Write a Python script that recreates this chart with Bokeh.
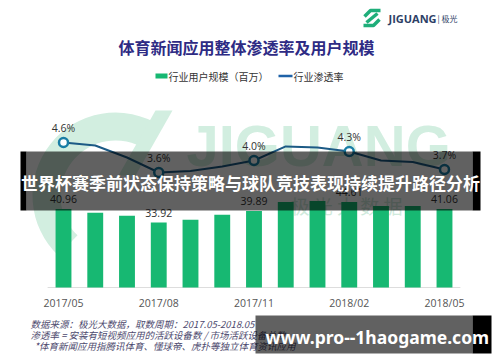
from bokeh.plotting import figure
from bokeh.models import Range1d
from bokeh.core.properties import value
from bokeh.embed import file_html
from bokeh.resources import INLINE

# ---------------- data ----------------
months = ["2017/05", "2017/06", "2017/07", "2017/08", "2017/09", "2017/10", "2017/11",
          "2017/12", "2018/01", "2018/02", "2018/03", "2018/04", "2018/05"]
users = [40.96, 39.0, 37.5, 33.92, 35.4, 38.0, 39.89, 44.6, 45.2, 44.61, 42.6, 42.6, 41.06]
rate = [4.6, 4.5, 4.1, 3.6, 3.65, 3.8, 4.0, 4.47, 4.43, 4.3, 4.0, 3.95, 3.7]
tick_labels = ["2017/05", "2017/08", "2017/11", "2018/02", "2018/05"]
label_months = ["2017/05", "2017/08", "2017/11", "2018/02", "2018/05"]
user_labels = ["40.96", "33.92", "39.89", "44.61", "41.06"]
rate_labels = ["4.6%", "3.6%", "4.0%", "4.3%", "3.7%"]

title_text = "体育新闻应用整体渗透率及用户规模"
legend_users = "行业用户规模（百万）"
legend_rate = "行业渗透率"
notes = ["数据来源：极光大数据，取数周期：2017.05-2018.05",
         "渗透率 = 安装有短视频应用的活跃设备数 / 市场活跃设备总数",
         "*体育新闻应用指腾讯体育、懂球帝、虎扑等独立体育资讯应用"]
banner_text = "世界杯赛季前状态保持策略与球队竞技表现持续提升路径分析"
url_text = "www.pro--1haogame.com"

idx = list(range(len(months)))
lab_idx = [months.index(m) for m in label_months]
lab_users = [users[i] for i in lab_idx]
lab_rate = [rate[i] for i in lab_idx]

CJK = value("Noto Sans CJK SC")
MINT = "#d2eee0"

p = figure(width=500, height=362, output_backend="svg", toolbar_location=None,
           x_range=Range1d(-1.9843, 13.764), y_range=Range1d(-39.16, 149.87),
           x_axis_type=None, y_axis_type=None, min_border=0)
p.extra_x_ranges = {"px": Range1d(0, 500)}
p.extra_y_ranges = {"px": Range1d(362, 0), "pct": Range1d(-2.7333, 9.3333)}
p.grid.visible = False
p.outline_line_color = None
p.background_fill_color = "white"
p.border_fill_color = "white"

PX = dict(x_range_name="px", y_range_name="px")

# ---------------- faint watermark ----------------
p.annular_wedge(x=115, y=195, inner_radius=55, outer_radius=83,
                inner_radius_units="screen", outer_radius_units="screen",
                start_angle=1.0, end_angle=3.95, fill_color=MINT, line_color=None, **PX)
p.patch(x=[155, 172, 135, 118], y=[110, 110, 175, 175], fill_color=MINT,
        line_color=None, **PX)
p.text(x=[186], y=[112], text=["JIGUANG"], text_font=value("Liberation Sans"),
       text_font_style="bold", text_font_size="58px", text_color=MINT,
       text_baseline="top", text_align="left", **PX)
p.text(x=[290], y=[205], text=["极  光  大  数  据"], text_font=CJK, text_font_size="19px",
       text_color="#cfeadc", text_baseline="middle", text_align="left", **PX)

# ---------------- header ----------------
p.multi_line(xs=[[364, 370, 380], [363, 373, 379], [366, 377]],
             ys=[[16, 10, 10], [25, 25, 19], [22, 13]],
             line_color="#1fae7a", line_width=3.5, **PX)
p.text(x=[388], y=[18], text=["JIGUANG"], text_font=value("Open Sans"), text_font_style="bold",
       text_font_size="11px", text_color="#2d3f66", text_baseline="middle", **PX)
p.text(x=[437], y=[18], text=["| 极光"], text_font=CJK, text_font_size="8px",
       text_color="#2d3f66", text_baseline="middle", **PX)
p.text(x=[246], y=[46], text=[title_text], text_font=CJK, text_font_style="bold",
       text_font_size="16px", text_color="#2e2b84", text_align="center",
       text_baseline="middle", **PX)

# legend
p.quad(left=[155], right=[167], top=[73], bottom=[78], fill_color="#17b872",
       line_color=None, **PX)
p.text(x=[168], y=[75.5], text=[legend_users], text_font=CJK, text_font_size="10px",
       text_color="#333333", text_baseline="middle", **PX)
p.segment(x0=[278], y0=[75.5], x1=[292], y1=[75.5], line_color="#1f62a8", line_width=2.5, **PX)
p.text(x=[293], y=[75.5], text=[legend_rate], text_font=CJK, text_font_size="10px",
       text_color="#333333", text_baseline="middle", **PX)

# ---------------- chart ----------------
p.segment(x0=[-0.5], y0=[0], x1=[12.5], y1=[0], line_color="#dddddd", line_width=1)
p.vbar(x=idx, top=users, width=0.5, bottom=0, fill_color="#17b872", line_color=None)
p.text(x=lab_idx, y=lab_users, text=user_labels, text_font=value("Open Sans"),
       text_font_size="10.5px", text_color="#333333", text_align="center",
       text_baseline="middle", y_offset=-10)

p.line(x=idx, y=rate, line_color="#1c5a85", line_width=2, y_range_name="pct")
p.scatter(x=lab_idx, y=lab_rate, size=9, fill_color="white", line_color="#1a7ea5",
          line_width=2.5, y_range_name="pct")
p.text(x=lab_idx, y=lab_rate, text=rate_labels, text_font=value("Open Sans"),
       text_font_size="10.5px", text_color="#333333", text_align="center",
       text_baseline="middle", y_offset=-14, y_range_name="pct")

tick_idx = [months.index(m) for m in tick_labels]
p.text(x=tick_idx, y=[0] * len(tick_idx), text=tick_labels, text_font=value("Open Sans"),
       text_font_size="10.5px", text_color="#555555", text_align="center",
       text_baseline="middle", y_offset=15)

# footnotes
p.text(x=[30, 30, 34], y=[323, 334, 345], text=notes, text_font=CJK, text_font_style="italic",
       text_font_size="9.5px", text_color="#4d4a6e", text_baseline="middle", **PX)

# ---------------- overlays ----------------
p.quad(left=[26], right=[472], top=[151], bottom=[210], fill_color="black", fill_alpha=0.62,
       line_color=None, **PX)
p.quad(left=[20, 472], right=[26, 480], top=[151, 151], bottom=[210, 210], fill_color="black",
       line_color=None, **PX)
p.text(x=[250], y=[182], text=[banner_text], text_font=CJK, text_font_style="bold",
       text_font_size="17px", text_color="white", text_align="center",
       text_baseline="middle", **PX)

p.quad(left=[255], right=[472], top=[315], bottom=[353], fill_color="black", fill_alpha=0.62,
       line_color=None, **PX)
p.quad(left=[472], right=[491], top=[315], bottom=[353], fill_color="black",
       line_color=None, **PX)
p.text(x=[265], y=[336], text=[url_text], text_font=value("Noto Sans"), text_font_style="bold",
       text_font_size="17.5px", text_color="white", text_align="left",
       text_baseline="middle", **PX)

open("out.html", "w").write(file_html(p, INLINE))
